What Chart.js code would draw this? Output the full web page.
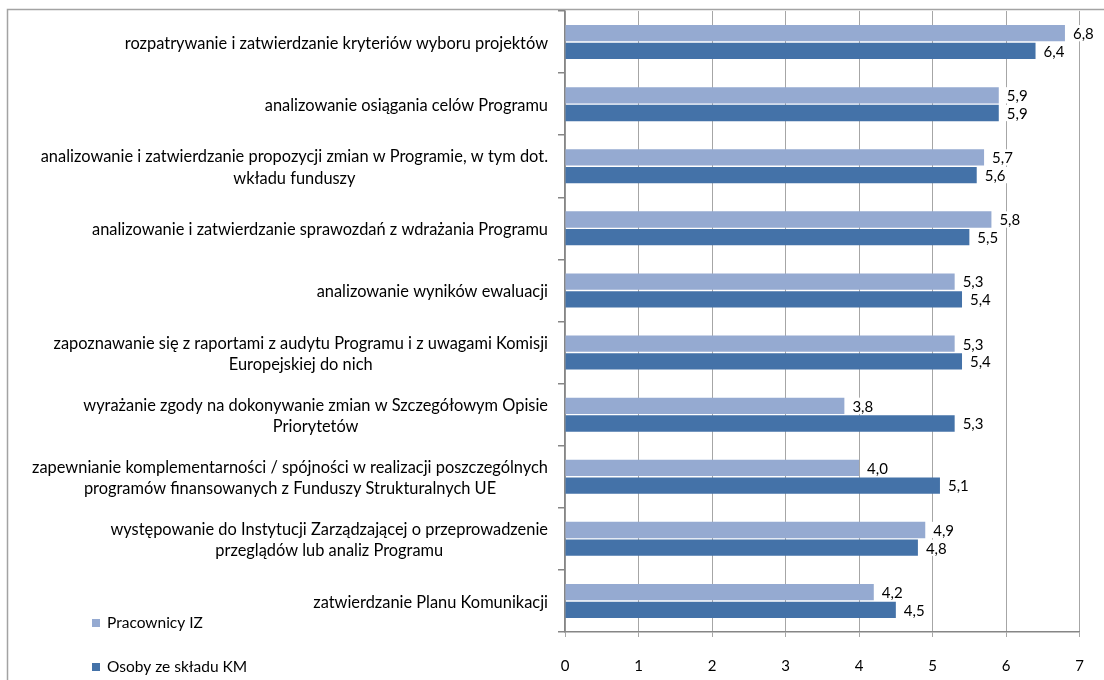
<!DOCTYPE html>
<html><head><meta charset="utf-8">
<script src="https://cdn.jsdelivr.net/npm/chart.js@4/dist/chart.umd.min.js"></script>
<style>html,body{margin:0;padding:0;background:#fff}#wrap{width:1104px;height:680px;position:relative}</style>
</head><body><div id="wrap"><canvas id="c" width="1104" height="680"></canvas></div>
<script>
const categories = [
 ["rozpatrywanie i zatwierdzanie kryteriów wyboru projektów"],
 ["analizowanie osiągania celów Programu"],
 ["analizowanie i zatwierdzanie propozycji zmian w Programie, w tym dot.", "wkładu funduszy"],
 ["analizowanie i zatwierdzanie sprawozdań z wdrażania Programu"],
 ["analizowanie wyników ewaluacji"],
 ["zapoznawanie się z raportami z audytu Programu i z uwagami Komisji", "Europejskiej do nich"],
 ["wyrażanie zgody na dokonywanie zmian w Szczegółowym Opisie", "Priorytetów"],
 ["zapewnianie komplementarności / spójności w realizacji poszczególnych", "programów finansowanych z Funduszy Strukturalnych UE"],
 ["występowanie do Instytucji Zarządzającej o przeprowadzenie", "przeglądów lub analiz Programu"],
 ["zatwierdzanie Planu Komunikacji"]
];
const seriesNames = ["Pracownicy IZ", "Osoby ze składu KM"];
const pracownicyIZ = [6.8, 5.9, 5.7, 5.8, 5.3, 5.3, 3.8, 4.0, 4.9, 4.2];
const osobyKM = [6.4, 5.9, 5.6, 5.5, 5.4, 5.4, 5.3, 5.1, 4.8, 4.5];
const xMin = 0, xMax = 7, xStep = 1;

const FONT = 'Lato';
const FS = 15;
const FS_CAT = 16.4;
const FS_LEG = 15.5;
const colors = ['#95AAD1', '#4472A8'];

const bgPlugin = {
  id: 'bg',
  beforeDraw(chart) {
    const ctx = chart.ctx;
    ctx.save();
    ctx.fillStyle = '#fff';
    ctx.fillRect(0, 0, chart.width, chart.height);
    ctx.strokeStyle = '#A3A3A3';
    ctx.lineWidth = 1.5;
    ctx.beginPath();
    ctx.moveTo(7.5, chart.height + 5);
    ctx.lineTo(7.5, 9.5);
    ctx.lineTo(chart.width + 5, 9.5);
    ctx.stroke();
    ctx.restore();
  }
};

const valueLabels = {
  id: 'valueLabels',
  afterDatasetsDraw(chart) {
    const ctx = chart.ctx;
    ctx.save();
    ctx.font = FS + 'px ' + FONT;
    ctx.textBaseline = 'middle';
    ctx.textAlign = 'left';
    chart.data.datasets.forEach((ds, di) => {
      const meta = chart.getDatasetMeta(di);
      meta.data.forEach((el, i) => {
        const txt = ds.data[i].toFixed(1).replace('.', ',');
        const w = ctx.measureText(txt).width;
        const h = el.height;
        ctx.fillStyle = '#fff';
        ctx.fillRect(el.x + 3, el.y - h / 2, w + 10, h);
        ctx.fillStyle = '#000';
        ctx.fillText(txt, el.x + 8, el.y + 1);
      });
    });
    ctx.restore();
  }
};

const catLabels = {
  id: 'catLabels',
  afterDraw(chart) {
    const ctx = chart.ctx;
    const ys = chart.scales.y;
    ctx.save();
    ctx.font = FS_CAT + 'px ' + FONT;
    ctx.fillStyle = '#000';
    ctx.textBaseline = 'middle';
    ctx.textAlign = 'center';
    const right = 548, lh = 21.5;
    categories.forEach((lines, i) => {
      const y = ys.getPixelForValue(i) + 1.5;
      const maxW = Math.max(...lines.map(l => ctx.measureText(l).width));
      const cx = right - maxW / 2;
      lines.forEach((l, j) => {
        ctx.fillText(l, cx, y + (j - (lines.length - 1) / 2) * lh);
      });
    });
    // legend
    ctx.font = FS_LEG + 'px ' + FONT;
    const ly = [623, 667];
    chart.data.datasets.forEach((ds, di) => {
      ctx.fillStyle = ds.backgroundColor;
      ctx.fillRect(92, ly[di] - 4, 8, 8);
      ctx.fillStyle = '#000';
      ctx.textAlign = 'left';
      ctx.fillText(ds.label, 107, ly[di]);
    });
    ctx.restore();
  }
};

new Chart(document.getElementById('c'), {
  type: 'bar',
  data: {
    labels: categories.map(c => c.join(' ')),
    datasets: [
      { label: seriesNames[0], data: pracownicyIZ, backgroundColor: colors[0], borderWidth: 0, categoryPercentage: 0.57, barPercentage: 0.92 },
      { label: seriesNames[1], data: osobyKM, backgroundColor: colors[1], borderWidth: 0, categoryPercentage: 0.57, barPercentage: 0.92 }
    ]
  },
  options: {
    indexAxis: 'y',
    responsive: false,
    animation: false,
    devicePixelRatio: 1,
    layout: { padding: { top: 11, right: 24, left: 0, bottom: 0 } },
    plugins: { legend: { display: false }, tooltip: { enabled: false } },
    scales: {
      x: {
        min: xMin, max: xMax,
        ticks: { stepSize: xStep, color: '#000', font: { family: FONT, size: FS }, padding: 20 },
        grid: { color: '#A6A6A6', lineWidth: 1, tickLength: 5, tickColor: '#A6A6A6' },
        border: { color: '#868686', width: 1.5 },
        afterFit(s) { s.height = 48; }
      },
      y: {
        offset: true,
        ticks: { display: false },
        grid: { offset: true, drawOnChartArea: false, tickLength: 7, color: '#868686', lineWidth: 1.5 },
        border: { color: '#868686', width: 1.5 },
        afterFit(s) { s.width = 565; }
      }
    }
  },
  plugins: [bgPlugin, valueLabels, catLabels]
});
</script>
</body></html>
